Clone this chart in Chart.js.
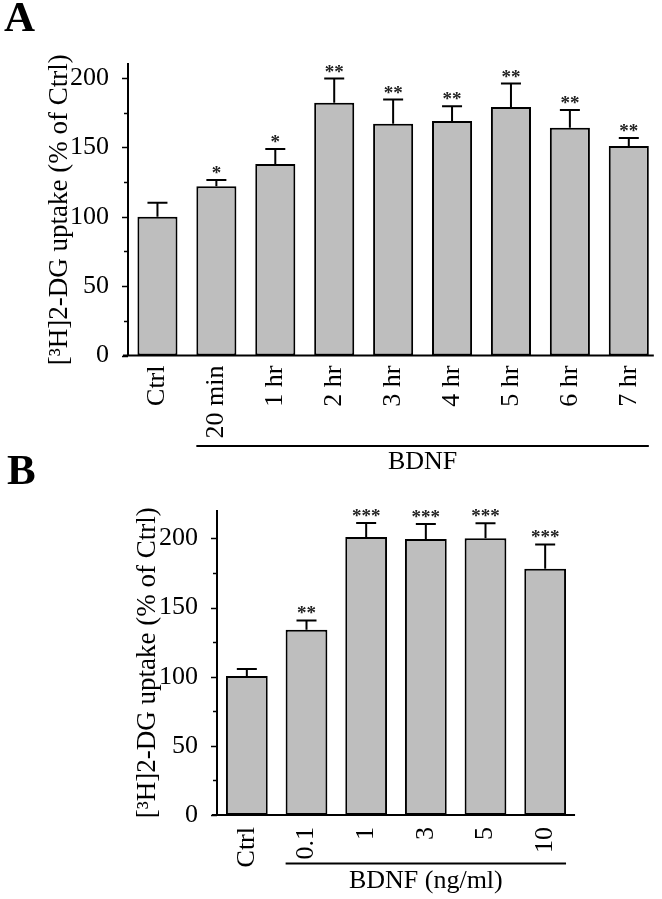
<!DOCTYPE html>
<html>
<head>
<meta charset="utf-8">
<script src="https://cdn.jsdelivr.net/npm/chart.js@4/dist/chart.umd.min.js"></script>
<style>
  html, body { margin: 0; padding: 0; background: #fff; }
  body { width: 662px; height: 899px; position: relative; overflow: hidden; }
  .panel { position: absolute; left: 0; }
  #wrapA { top: 0; width: 662px; height: 480px; }
  #wrapB { top: 450px; width: 662px; height: 449px; }
</style>
</head>
<body>
<div id="wrapA" class="panel"><canvas id="chartA" width="662" height="480"></canvas></div>
<div id="wrapB" class="panel"><canvas id="chartB" width="662" height="449"></canvas></div>
<script>
// ---------- Data ----------
const yTitle = '[\u00B3H]2-DG uptake (% of Ctrl)';

const catsA = ['Ctrl', '20 min', '1 hr', '2 hr', '3 hr', '4 hr', '5 hr', '6 hr', '7 hr'];
const valsA = [100, 122, 138, 182, 167, 169, 179, 164, 151];
const errA  = [10, 4.5, 10.8, 17.5, 17.4, 10.6, 16.9, 12.8, 5.6];
const starsA = ['', '*', '*', '**', '**', '**', '**', '**', '**'];
const groupLabelA = 'BDNF';

const catsB = ['Ctrl', '0.1', '1', '3', '5', '10'];
const valsB = [100.5, 134, 201, 199.5, 200, 178];
const errB  = [5.1, 6.7, 10.1, 10.9, 10.9, 17.6];
const starsB = ['', '**', '***', '***', '***', '***'];
const groupLabelB = 'BDNF (ng/ml)';

const yTicksLabeled = [0, 50, 100, 150, 200];

// ---------- Styles ----------
const SERIF = '"Liberation Serif", "DejaVu Serif", serif';
const BAR_FILL = '#bebebe';

function annotPlugin(cfg) {
  return {
    id: 'annot' + cfg.letter,
    afterDatasetsDraw(chart) {
      const ctx = chart.ctx;
      const ys = chart.scales.y;
      const meta = chart.getDatasetMeta(0);
      const area = chart.chartArea;
      ctx.save();
      // error bars + stars
      meta.data.forEach((el, i) => {
        const x = el.x;
        const yTop = ys.getPixelForValue(cfg.vals[i]);
        const yErr = ys.getPixelForValue(cfg.vals[i] + cfg.err[i]);
        ctx.strokeStyle = '#000';
        ctx.lineWidth = 2;
        ctx.beginPath();
        ctx.moveTo(x, yTop);
        ctx.lineTo(x, yErr);
        ctx.moveTo(x - 10, yErr);
        ctx.lineTo(x + 10, yErr);
        ctx.stroke();
        if (cfg.stars[i]) {
          ctx.fillStyle = '#222';
          ctx.font = 'bold 19px ' + SERIF;
          ctx.textAlign = 'center';
          ctx.textBaseline = 'alphabetic';
          ctx.fillText(cfg.stars[i], x, yErr - 1);
        }
      });
      // x axis line
      const last = meta.data[meta.data.length - 1];
      const yBase = ys.getPixelForValue(0);
      ctx.strokeStyle = '#000';
      ctx.lineWidth = 2;
      ctx.beginPath();
      ctx.moveTo(area.left - 5, yBase);
      ctx.lineTo(last.x + last.width / 2 + cfg.axisExtra, yBase);
      ctx.stroke();
      // y tick marks (major & minor)
      const yAxisX = area.left;
      for (let v = 0; v <= ys.max; v += 25) {
        const py = Math.round(ys.getPixelForValue(v)) + 0.5;
        const len = (v % 50 === 0) ? 6 : 4;
        ctx.lineWidth = 1.5;
        ctx.beginPath();
        ctx.moveTo(yAxisX - len, py);
        ctx.lineTo(yAxisX, py);
        ctx.stroke();
      }
      // group line and label
      const first = meta.data[1];
      const x0 = first.x - first.width / 2;
      const x1 = last.x + last.width / 2;
      ctx.lineWidth = 2;
      ctx.beginPath();
      ctx.moveTo(x0, cfg.groupLineY);
      ctx.lineTo(x1, cfg.groupLineY);
      ctx.stroke();
      ctx.fillStyle = '#000';
      ctx.font = '26px ' + SERIF;
      ctx.textAlign = 'center';
      ctx.textBaseline = 'middle';
      ctx.fillText(cfg.groupLabel, (x0 + x1) / 2, cfg.groupTextY);
      // panel letter
      ctx.font = 'bold 43px ' + SERIF;
      ctx.textAlign = 'left';
      ctx.textBaseline = 'alphabetic';
      ctx.fillText(cfg.letter, cfg.letterX, cfg.letterY);
      ctx.restore();
    }
  };
}

function makeChart(id, cfg) {
  return new Chart(document.getElementById(id), {
    type: 'bar',
    data: {
      labels: cfg.cats,
      datasets: [{
        data: cfg.vals,
        backgroundColor: BAR_FILL,
        borderColor: '#000',
        borderWidth: 2,
        borderSkipped: false,
        categoryPercentage: 1.0,
        barPercentage: cfg.barPct
      }]
    },
    options: {
      responsive: false,
      animation: false,
      devicePixelRatio: 1,
      layout: { padding: { top: cfg.padTop, left: 0, right: cfg.padRight, bottom: 0 } },
      plugins: { legend: { display: false }, tooltip: { enabled: false }, title: { display: false } },
      scales: {
        x: {
          type: 'category',
          offset: true,
          grid: { display: false },
          border: { display: false },
          ticks: {
            autoSkip: false, maxRotation: 90, minRotation: 90, padding: cfg.xPad,
            color: '#000', font: { family: SERIF, size: 26 }
          },
          afterFit: s => { s.height = cfg.xHeight; }
        },
        y: {
          min: 0, max: cfg.yMax,
          grid: { display: false },
          border: { display: true, color: '#000', width: 2 },
          ticks: {
            stepSize: 25, includeBounds: false, padding: 11, color: '#000',
            font: { family: SERIF, size: 26 },
            callback: v => yTicksLabeled.includes(v) ? String(v) : ''
          },
          title: {
            display: true, text: yTitle, color: '#000',
            font: { family: SERIF, size: 27 },
            padding: { top: cfg.titlePad, bottom: 0 }
          },
          afterFit: s => { s.width = cfg.yWidth; }
        }
      }
    },
    plugins: [annotPlugin(cfg)]
  });
}

makeChart('chartA', {
  cats: catsA, vals: valsA, err: errA, stars: starsA, groupLabel: groupLabelA,
  letter: 'A', letterX: 4, letterY: 31,
  barPct: 0.68, yMax: 210, padTop: 64, padRight: 0,
  xHeight: 480 - 355.5, yWidth: 128, titlePad: 44, xPad: 2,
  groupLineY: 446, groupTextY: 462, axisExtra: 5
});

makeChart('chartB', {
  cats: catsB, vals: valsB, err: errB, stars: starsB, groupLabel: groupLabelB,
  letter: 'B', letterX: 7, letterY: 34,
  barPct: 0.70, yMax: 220, padTop: 60.7, padRight: 87,
  xHeight: 449 - 365, yWidth: 217, titlePad: 132, xPad: 4,
  groupLineY: 863.5 - 450, groupTextY: 881 - 450, axisExtra: 9
});
</script>
</body>
</html>
